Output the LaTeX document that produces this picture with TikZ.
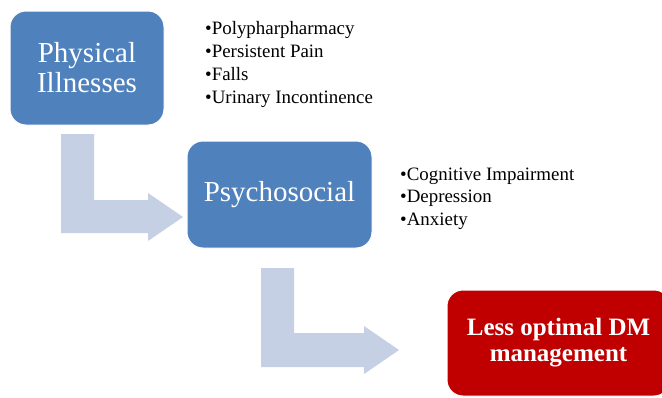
\documentclass[tikz,border=0pt]{standalone}
\usepackage{fontspec}
\setmainfont{Liberation Serif}
\definecolor{boxblue}{RGB}{79,129,189}
\definecolor{arrowblue}{RGB}{197,208,228}
\definecolor{boxred}{RGB}{192,0,0}
\begin{document}
\begin{tikzpicture}[x=1pt,y=-1pt,
  box/.style={draw=white, line width=1pt, rounded corners=16pt, text=white, align=center, inner sep=0pt},
  item/.style={anchor=base west, inner sep=0pt, font=\fontsize{18.9}{22.5}\selectfont},
  bent/.style={fill=arrowblue, draw=none}]
\useasboundingbox (0,0) rectangle (662,397);
\clip (0,0) rectangle (662,397);
% bent arrows
\fill[bent] (61,134) -- (94,134) -- (94,200) -- (148,200) -- (148,193) -- (183,217) -- (148,241) -- (148,233) -- (61,233) -- cycle;
\fill[bent] (261,268) -- (294,268) -- (294,333) -- (364,333) -- (364,326) -- (399,350) -- (364,374) -- (364,367) -- (261,367) -- cycle;
% boxes
\node[box, fill=boxblue, minimum width=154pt, minimum height=114pt, font=\fontsize{29}{30}\selectfont] (phys) at (87,68) {Physical\\Illnesses};
\node[box, fill=boxblue, minimum width=185pt, minimum height=107pt, font=\fontsize{29}{30}\selectfont] (psych) at (279.5,194.5) {Psychosocial};
\node[box, fill=boxred, minimum width=223pt, minimum height=106pt, font=\fontsize{25}{26}\selectfont\bfseries] (dm) at (558.5,343) {Less optimal DM\\management};
% bullet lists
\node[item] (p1) at (205,34) {•Polypharpharmacy};
\node[item] (p2) at (205,57) {•Persistent Pain};
\node[item] (p3) at (205,80) {•Falls};
\node[item] (p4) at (205,103) {•Urinary Incontinence};
\node[item] (s1) at (400,180) {•Cognitive Impairment};
\node[item] (s2) at (400,202.5) {•Depression};
\node[item] (s3) at (400,225) {•Anxiety};
\end{tikzpicture}
\end{document}
